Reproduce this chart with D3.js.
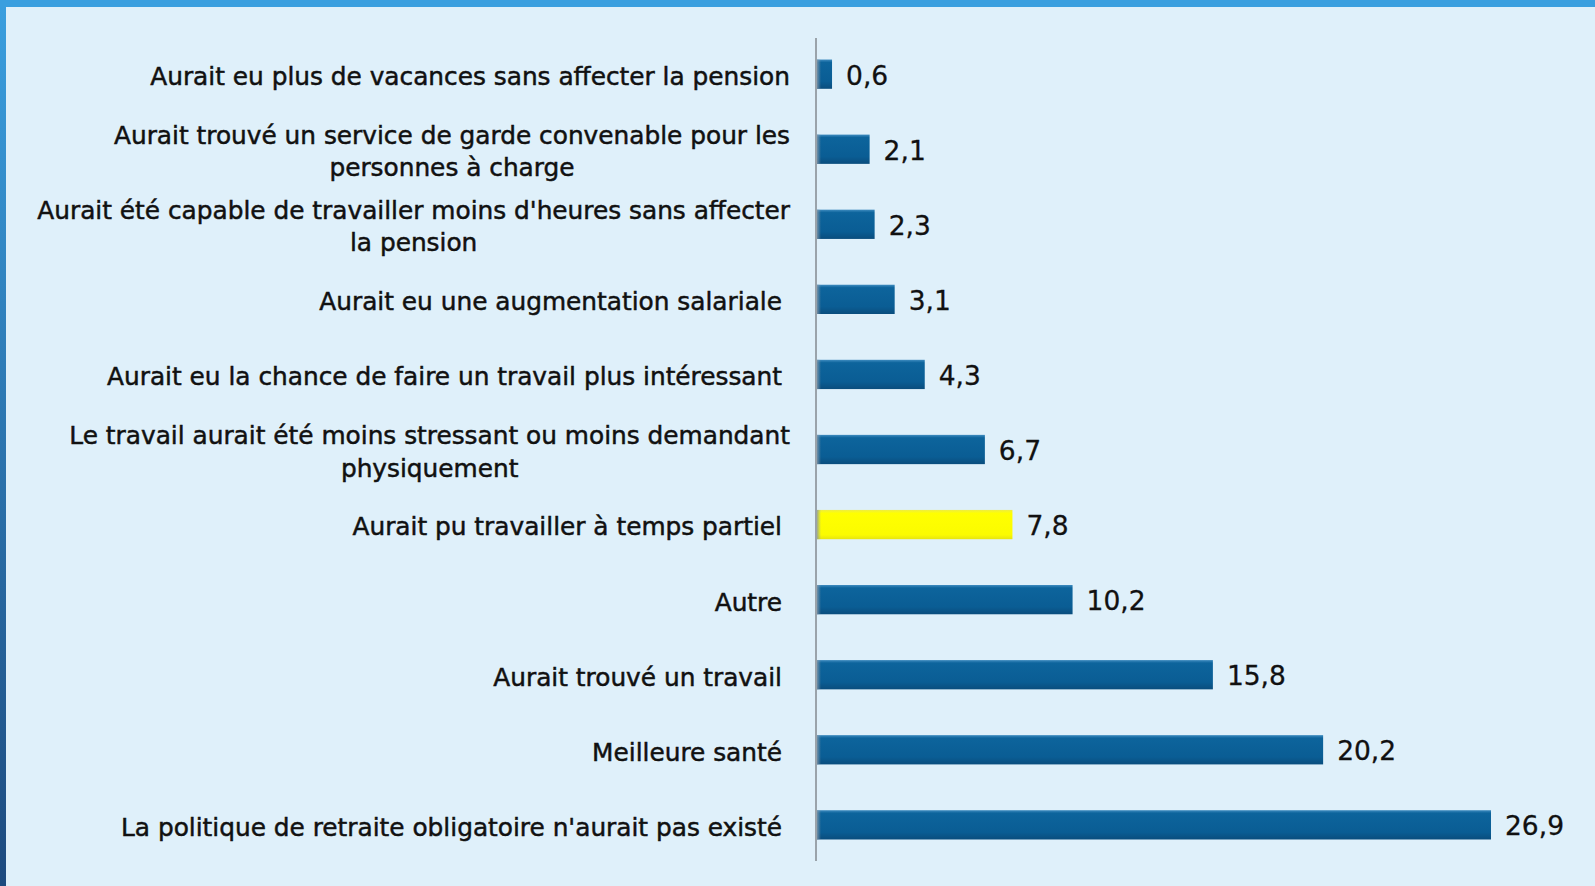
<!DOCTYPE html>
<html><head><meta charset="utf-8">
<script src="https://cdn.jsdelivr.net/npm/d3@7"></script>
<style>html,body{margin:0;padding:0;background:#dff0fa;overflow:hidden}</style>
</head><body>
<svg id="chart" width="1595" height="886"></svg>
<script>
const categories = [
  ["Aurait eu plus de vacances sans affecter la pension"],
  ["Aurait trouvé un service de garde convenable pour les", "personnes à charge"],
  ["Aurait été capable de travailler moins d'heures sans affecter", "la pension"],
  ["Aurait eu une augmentation salariale"],
  ["Aurait eu la chance de faire un travail plus intéressant"],
  ["Le travail aurait été moins stressant ou moins demandant", "physiquement"],
  ["Aurait pu travailler à temps partiel"],
  ["Autre"],
  ["Aurait trouvé un travail"],
  ["Meilleure santé"],
  ["La politique de retraite obligatoire n'aurait pas existé"]
];
const values = [0.6, 2.1, 2.3, 3.1, 4.3, 6.7, 7.8, 10.2, 15.8, 20.2, 26.9];
const highlighted = [false, false, false, false, false, false, true, false, false, false, false];

const svg = d3.select("#chart");
const W = 1595, H = 886;
const font = "'DejaVu Sans',sans-serif";

const defs = svg.append("defs");
const gBlue = defs.append("linearGradient").attr("id","gBlue").attr("x1",0).attr("y1",0).attr("x2",0).attr("y2",1);
gBlue.append("stop").attr("offset","0%").attr("stop-color","#3f8cc0");
gBlue.append("stop").attr("offset","10%").attr("stop-color","#0d649c");
gBlue.append("stop").attr("offset","75%").attr("stop-color","#0a5d94");
gBlue.append("stop").attr("offset","100%").attr("stop-color","#0a4d7d");
const gYel = defs.append("linearGradient").attr("id","gYel").attr("x1",0).attr("y1",0).attr("x2",0).attr("y2",1);
gYel.append("stop").attr("offset","0%").attr("stop-color","#eeee40");
gYel.append("stop").attr("offset","12%").attr("stop-color","#ffff00");
gYel.append("stop").attr("offset","85%").attr("stop-color","#fbfb00");
gYel.append("stop").attr("offset","100%").attr("stop-color","#e6e410");
const gLeft = defs.append("linearGradient").attr("id","gLeft").attr("x1",0).attr("y1",0).attr("x2",0).attr("y2",1);
gLeft.append("stop").attr("offset","0%").attr("stop-color","#3a9fdf");
gLeft.append("stop").attr("offset","100%").attr("stop-color","#1d4a7e");
const gEdge = defs.append("linearGradient").attr("id","gEdge").attr("x1",0).attr("y1",0).attr("x2",1).attr("y2",0);
gEdge.append("stop").attr("offset","0%").attr("stop-color","#8a9aa8").attr("stop-opacity",0.8);
gEdge.append("stop").attr("offset","100%").attr("stop-color","#8a9aa8").attr("stop-opacity",0);

// frame
svg.append("rect").attr("x",0).attr("y",0).attr("width",W).attr("height",H).attr("fill","#dff0fa");
svg.append("rect").attr("x",0).attr("y",0).attr("width",6).attr("height",H).attr("fill","url(#gLeft)");
svg.append("rect").attr("x",0).attr("y",0).attr("width",W).attr("height",7).attr("fill","#3a9fdf");

const x0 = 817;
const x = d3.scaleLinear().domain([0, 26.9]).range([x0, 1491]);
const y = d3.scaleBand().domain(d3.range(values.length)).range([37, 862]).paddingInner(0.61).paddingOuter(0.3);

// axis line
svg.append("line").attr("x1",816).attr("x2",816).attr("y1",38).attr("y2",861)
  .attr("stroke","#9aa3aa").attr("stroke-width",2);

const g = svg.append("g");
const bars = g.selectAll("g.bar").data(values).join("g").attr("class","bar");
bars.append("rect")
  .attr("x", x0)
  .attr("y", (d,i)=>y(i))
  .attr("width", d=>x(d)-x0)
  .attr("height", y.bandwidth())
  .attr("fill", (d,i)=>highlighted[i] ? "url(#gYel)" : "url(#gBlue)");
bars.append("rect")
  .attr("x", x0).attr("y",(d,i)=>y(i)).attr("width",4).attr("height",y.bandwidth())
  .attr("fill","url(#gEdge)");

bars.append("text")
  .attr("x", d=>x(d)+14)
  .attr("y", (d,i)=>y(i)+y.bandwidth()/2)
  .attr("dy","0.40em")
  .attr("font-family", font).attr("font-size", 26.5).attr("fill","#111")
  .attr("stroke","#111").attr("stroke-width",0.3)
  .text(d=>d3.format(".1f")(d).replace(".", ","));

// category labels
categories.forEach((lines, i) => {
  const cy = y(i) + y.bandwidth()/2 + 2;
  const lh = 32.5;
  const labelRight = (lines.length > 1 || i === 0) ? 790 : 782;
  const t = svg.append("text")
    .attr("font-family", font).attr("font-size", 24.8).attr("fill","#111")
    .attr("stroke","#111").attr("stroke-width",0.5);
  const tmp = svg.append("text").attr("font-family",font).attr("font-size",24.8);
  let maxW = 0;
  lines.forEach(l=>{ tmp.text(l); maxW = Math.max(maxW, tmp.node().getComputedTextLength()); });
  tmp.remove();
  const cx = labelRight - maxW/2;
  lines.forEach((l, k) => {
    t.append("tspan").attr("x", cx).attr("text-anchor","middle")
      .attr("y", cy + (k - (lines.length-1)/2)*lh).attr("dy","0.36em").text(l);
  });
});
</script>
</body></html>
